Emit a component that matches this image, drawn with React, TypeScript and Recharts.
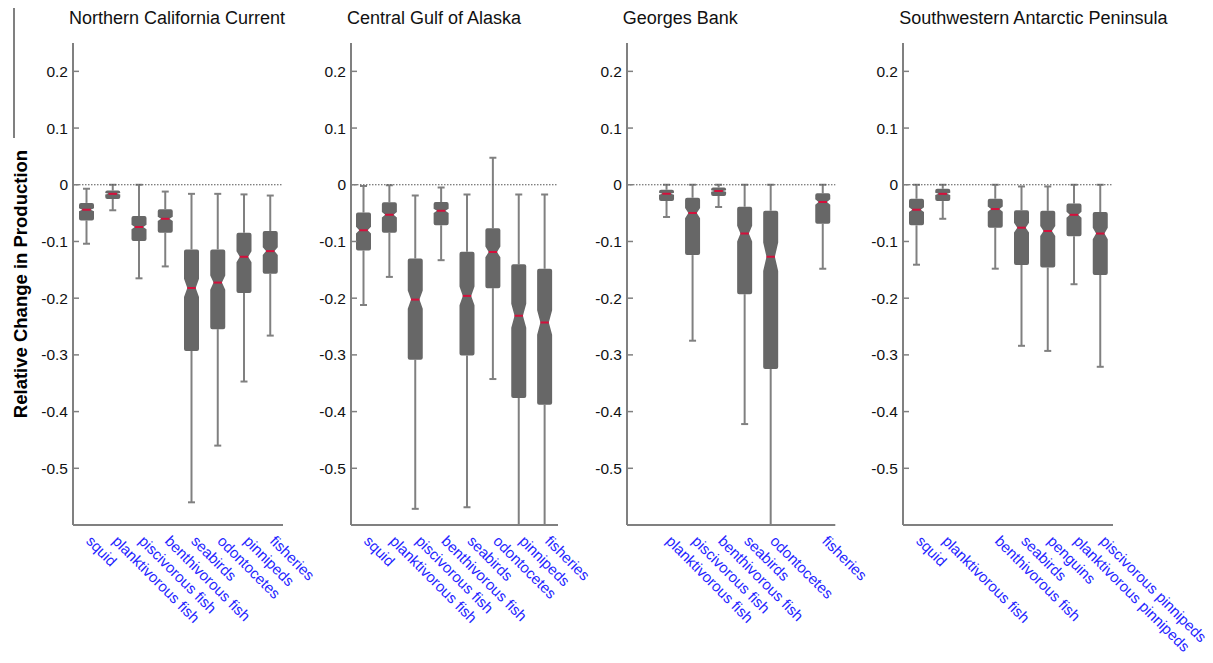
import React from 'react';
import { ComposedChart, Bar, XAxis, YAxis, ReferenceLine } from 'recharts';

// four ecosystems, boxplots of relative change in production
const PANEL_TITLES = ['Northern California Current', 'Central Gulf of Alaska', 'Georges Bank', 'Southwestern Antarctic Peninsula'];

const NCC_CATS = ['squid', 'planktivorous fish', 'piscivorous fish', 'benthivorous fish', 'seabirds', 'odontocetes', 'pinnipeds', 'fisheries'];
const NCC_HIGH = [-0.007, 0, 0, -0.012, -0.016, -0.016, -0.017, -0.019];
const NCC_Q3 = [-0.032, -0.01, -0.055, -0.043, -0.114, -0.114, -0.0845, -0.0815];
const NCC_MED = [-0.044, -0.016, -0.0745, -0.06, -0.182, -0.1725, -0.127, -0.117];
const NCC_Q1 = [-0.063, -0.025, -0.099, -0.0845, -0.293, -0.2546, -0.191, -0.157];
const NCC_LOW = [-0.104, -0.045, -0.165, -0.144, -0.56, -0.46, -0.347, -0.266];

const CGOA_CATS = ['squid', 'planktivorous fish', 'piscivorous fish', 'benthivorous fish', 'seabirds', 'odontocetes', 'pinnipeds', 'fisheries'];
const CGOA_HIGH = [-0.002, -0.001, -0.019, -0.005, -0.017, 0.0475, -0.017, -0.017];
const CGOA_Q3 = [-0.049, -0.031, -0.13, -0.0305, -0.118, -0.0768, -0.14, -0.148];
const CGOA_MED = [-0.08, -0.053, -0.2025, -0.046, -0.196, -0.1185, -0.231, -0.243];
const CGOA_Q1 = [-0.116, -0.0845, -0.3086, -0.0715, -0.301, -0.1824, -0.376, -0.388];
const CGOA_LOW = [-0.212, -0.1625, -0.5715, -0.133, -0.5687, -0.3426, -0.6, -0.6];

const GB_CATS = ['', 'planktivorous fish', 'piscivorous fish', 'benthivorous fish', 'seabirds', 'odontocetes', '', 'fisheries'];
const GB_HIGH = [null, 0, 0, 0, 0, 0, null, 0];
const GB_Q3 = [null, -0.0088, -0.023, -0.005, -0.0387, -0.046, null, -0.015];
const GB_MED = [null, -0.016, -0.05, -0.011, -0.086, -0.127, null, -0.0305];
const GB_Q1 = [null, -0.0287, -0.124, -0.02, -0.193, -0.325, null, -0.0687];
const GB_LOW = [null, -0.057, -0.275, -0.039, -0.422, -0.6, null, -0.148];

const SWAP_CATS = ['squid', 'planktivorous fish', '', 'benthivorous fish', 'seabirds', 'penguins', 'planktivorous pinnipeds', 'piscivorous pinnipeds'];
const SWAP_HIGH = [0, 0, null, 0, -0.003, -0.003, 0, 0];
const SWAP_Q3 = [-0.0246, -0.007, null, -0.0246, -0.045, -0.046, -0.033, -0.048];
const SWAP_MED = [-0.044, -0.016, null, -0.0428, -0.0757, -0.0815, -0.053, -0.086];
const SWAP_Q1 = [-0.0715, -0.0287, null, -0.0757, -0.1414, -0.146, -0.091, -0.159];
const SWAP_LOW = [-0.141, -0.06, null, -0.148, -0.284, -0.293, -0.1754, -0.321];

const Y_TICKS = [-0.5, -0.4, -0.3, -0.2, -0.1, 0, 0.1, 0.2];
const Y_MIN = -0.6;
const Y_MAX = 0.25;

const FONT = '"Liberation Sans", Arial, Helvetica, sans-serif';
const AXIS_COLOR = '#808080';
const BOX_COLOR = '#676767';
const MEDIAN_COLOR = '#d4103c';
const LABEL_COLOR = '#2424ff';

const build = (cats, low, q1, med, q3, high) =>
  cats.map((name, i) => ({
    name,
    range: high[i] == null ? null : [low[i], high[i]],
    low: low[i],
    q1: q1[i],
    med: med[i],
    q3: q3[i],
    high: high[i],
  }));

const PANELS = [
  { data: build(NCC_CATS, NCC_LOW, NCC_Q1, NCC_MED, NCC_Q3, NCC_HIGH), axisX: 73, plotW: 210 },
  { data: build(CGOA_CATS, CGOA_LOW, CGOA_Q1, CGOA_MED, CGOA_Q3, CGOA_HIGH), axisX: 351, plotW: 207 },
  { data: build(GB_CATS, GB_LOW, GB_Q1, GB_MED, GB_Q3, GB_HIGH), axisX: 626.7, plotW: 208.3 },
  { data: build(SWAP_CATS, SWAP_LOW, SWAP_Q1, SWAP_MED, SWAP_Q3, SWAP_HIGH), axisX: 903.3, plotW: 210 },
];

const Y_AXIS_W = 60;
const RIGHT_PAD = 110; // room for the slanted category labels
const TOP = 43;
const X_AXIS_H = 138;
const CHART_H = 663;

const BoxShape = (props: any) => {
  const { x, y, width, height, payload } = props;
  if (!payload || payload.high == null) return null;
  const top = Math.min(y, y + height);
  const h = Math.abs(height);
  const span = payload.high - payload.low;
  const py = (v: number) => top + ((payload.high - v) / span) * h;
  const cx = x + width / 2;
  const L = x;
  const R = x + width;
  const T = py(payload.q3);
  const B = py(payload.q1);
  const M = py(payload.med);
  const n = (payload.q3 - payload.q1) * 0.09;
  const nTop = Math.max(T + 1, py(payload.med + n));
  const nBot = Math.min(B - 1, py(payload.med - n));
  const inset = width * 0.22;
  const r = 2;
  const d = [
    `M${L + r},${T}`, `H${R - r}`, `Q${R},${T} ${R},${T + r}`,
    `V${nTop}`, `L${R - inset},${M}`, `L${R},${nBot}`,
    `V${B - r}`, `Q${R},${B} ${R - r},${B}`, `H${L + r}`, `Q${L},${B} ${L},${B - r}`,
    `V${nBot}`, `L${L + inset},${M}`, `L${L},${nTop}`,
    `V${T + r}`, `Q${L},${T} ${L + r},${T}`, 'Z',
  ].join(' ');
  const yHigh = py(payload.high);
  const yLow = py(payload.low);
  const cap = 3.5;
  return (
    <g>
      <line x1={cx} x2={cx} y1={yHigh} y2={T} stroke={AXIS_COLOR} strokeWidth={2} />
      <line x1={cx} x2={cx} y1={B} y2={yLow} stroke={AXIS_COLOR} strokeWidth={2} />
      <line x1={cx - cap} x2={cx + cap} y1={yHigh} y2={yHigh} stroke={AXIS_COLOR} strokeWidth={2} />
      {payload.low > Y_MIN && (
        <line x1={cx - cap} x2={cx + cap} y1={yLow} y2={yLow} stroke={AXIS_COLOR} strokeWidth={2} />
      )}
      <path d={d} fill={BOX_COLOR} />
      <line x1={L + inset} x2={R - inset} y1={M} y2={M} stroke={MEDIAN_COLOR} strokeWidth={2} />
    </g>
  );
};

const XTick = (props: any) => {
  const { x, y, payload } = props;
  if (!payload.value) return null;
  return (
    <g transform={`translate(${x - 1},${y + 17}) rotate(45)`}>
      <text x={0} y={0} fill={LABEL_COLOR} fontSize={15} fontFamily={FONT} textAnchor="start">
        {payload.value}
      </text>
    </g>
  );
};

const YTick = (props: any) => {
  const { x, y, payload } = props;
  return (
    <g>
      <line x1={x} x2={x + 6} y1={y} y2={y} stroke={AXIS_COLOR} strokeWidth={1.5} />
      <text x={x - 5} y={y} dy="0.36em" fill="#111" fontSize={15.5} fontFamily={FONT} textAnchor="end">
        {String(payload.value)}
      </text>
    </g>
  );
};

const Panel = ({ data, axisX, plotW }: any) => (
  <div style={{ position: 'absolute', left: axisX - Y_AXIS_W, top: 0 }}>
    <ComposedChart
      width={Y_AXIS_W + plotW + RIGHT_PAD}
      height={CHART_H}
      data={data}
      margin={{ top: TOP, right: RIGHT_PAD, left: 0, bottom: 0 }}
    >
      <XAxis
        dataKey="name"
        interval={0}
        height={X_AXIS_H}
        tickLine={false}
        tickSize={0}
        tickMargin={0}
        axisLine={{ stroke: AXIS_COLOR, strokeWidth: 2 }}
        tick={<XTick />}
      />
      <YAxis
        type="number"
        domain={[Y_MIN, Y_MAX]}
        ticks={Y_TICKS}
        allowDataOverflow
        width={Y_AXIS_W}
        tickLine={false}
        tickSize={0}
        tickMargin={0}
        axisLine={{ stroke: AXIS_COLOR, strokeWidth: 2 }}
        tick={<YTick />}
      />
      <ReferenceLine y={0} stroke="#555" strokeDasharray="1.5 1.5" strokeWidth={1} />
      <Bar dataKey="range" barSize={15} shape={<BoxShape />} isAnimationActive={false} />
    </ComposedChart>
  </div>
);

export default function App() {
  return (
    <div style={{ position: 'absolute', left: 0, top: 0, width: 1213, height: 663, background: '#fff', fontFamily: FONT, overflow: 'hidden' }}>
      {PANELS.map((p, i) => (
        <Panel key={i} {...p} />
      ))}
      {PANELS.map((p, i) => (
        <div
          key={'t' + i}
          style={{ position: 'absolute', left: p.axisX - 4, top: 7, fontSize: 18, lineHeight: '22px', color: '#111', whiteSpace: 'nowrap' }}
        >
          {PANEL_TITLES[i]}
        </div>
      ))}
      <svg width={40} height={663} style={{ position: 'absolute', left: 0, top: 0 }}>
        <line x1={14} x2={14} y1={8} y2={138} stroke={AXIS_COLOR} strokeWidth={2} />
        <text
          transform="translate(26.5,284) rotate(-90)"
          textAnchor="middle"
          fontSize={18.5}
          fontWeight="bold"
          fontFamily={FONT}
          fill="#000"
        >
          Relative Change in Production
        </text>
      </svg>
    </div>
  );
}
